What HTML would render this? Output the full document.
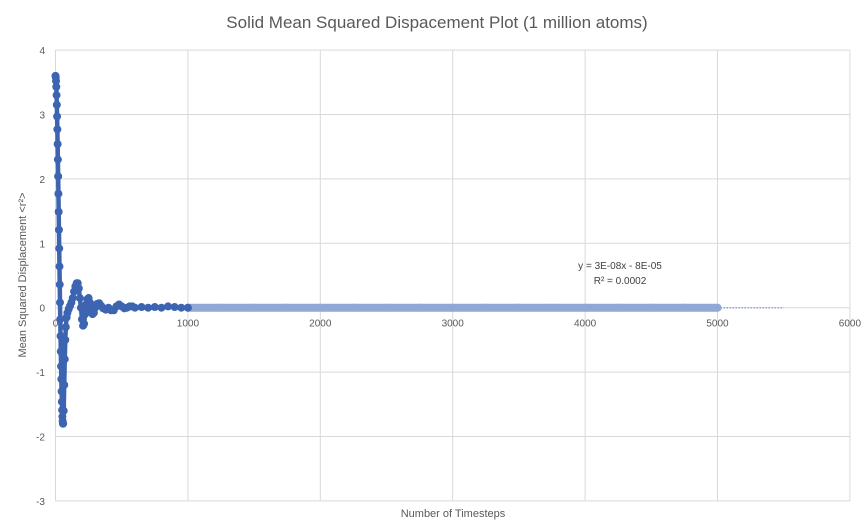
<!DOCTYPE html>
<html><head><meta charset="utf-8">
<style>
html,body{margin:0;padding:0;background:#fff;}
svg{display:block;font-family:"Liberation Sans",sans-serif;}
</style></head>
<body>
<svg id="chart" width="866" height="529" viewBox="0 0 866 529">
  <rect x="0" y="0" width="866" height="529" fill="#fff"/>
  <text x="437" y="28" text-anchor="middle" font-size="17" fill="#595959">Solid Mean Squared Dispacement Plot (1 million atoms)</text>
  <g id="grid"></g>
  <g id="ticks"></g>
  <g id="series"></g>
  <text x="26" y="275" text-anchor="middle" font-size="11" fill="#595959" transform="rotate(-90 26 275)">Mean Squared Displacement &lt;r²&gt;</text>
  <text x="453" y="517" text-anchor="middle" font-size="11" fill="#595959">Number of Timesteps</text>
  <text x="620" y="269" text-anchor="middle" font-size="10" fill="#404040">y = 3E-08x - 8E-05</text>
  <text x="620" y="284" text-anchor="middle" font-size="10" fill="#404040">R² = 0.0002</text>
</svg>
<script>
const xTicks=[0,1000,2000,3000,4000,5000,6000];
const yTicks=[4,3,2,1,0,-1,-2,-3];
const mainT=[0,2,4,6,8,10,12,14,16,18,20,22,24,26,28,30,32,34,36,38,40,42,44,46,48,50,52,54,56,58,
62,66,70,74,78,84,90,100,110,120,130,140,150,160,168,176,184,192,200,208,216,224,232,240,250,260,270,280,290,300,
315,330,345,360,380,400,420,440,460,480,500,520,540,560,580,600,650,700,750,800,850,900,950,1000];
const mainV=[3.60,3.58,3.52,3.43,3.30,3.15,2.97,2.77,2.54,2.30,2.04,1.77,1.49,1.21,0.92,0.64,0.36,0.08,-0.18,-0.44,-0.68,-0.91,-1.11,-1.30,-1.46,-1.59,-1.69,-1.76,-1.80,-1.80,
-1.6,-1.2,-0.8,-0.5,-0.3,-0.15,-0.08,-0.02,0.03,0.08,0.15,0.25,0.33,0.38,0.38,0.3,0.15,0,-0.18,-0.28,-0.25,-0.1,0.05,0.13,0.15,0.08,-0.03,-0.1,-0.08,0,
0.06,0.07,0.03,-0.01,-0.03,0.0,-0.04,-0.04,0.02,0.05,0.02,-0.01,0,0.02,0.02,0,0.01,0,0.01,0,0.02,0.01,0,0];
const lightT=[1000,1250,1500,1750,2000,2250,2500,2750,3000,3250,3500,3750,4000,4250,4500,4750,5000];
const lightV=[0,0,0,0,0,0,0,0,0,0,0,0,0,0,0,0,0];
const trendT=[5000,5500];
const trendSlope=3e-8, trendIntercept=-8e-5;

const NS="http://www.w3.org/2000/svg";
const X0=55.5, XS=132.4/1000, Y0=307.7, YS=64.4;
function sx(t){return X0+t*XS;}
function sy(v){return Y0-v*YS;}
function mk(tag,attrs,parent){const e=document.createElementNS(NS,tag);for(const k in attrs)e.setAttribute(k,attrs[k]);parent.appendChild(e);return e;}
const grid=document.getElementById('grid'),ticks=document.getElementById('ticks'),ser=document.getElementById('series');
const xMin=sx(0),xMax=sx(6000),yTop=sy(4),yBot=sy(-3);
yTicks.forEach(v=>{
  const l=mk('line',{x1:xMin,x2:xMax,y1:sy(v),y2:sy(v),stroke:'#d9d9d9','stroke-width':1},grid);
  
  
  const t=mk('text',{x:45,y:sy(v)+4,'text-anchor':'end','font-size':10,fill:'#595959'},ticks);
  t.textContent=v;
  
  
});
xTicks.forEach(v=>{
  const l=mk('line',{x1:sx(v),x2:sx(v),y1:yTop,y2:yBot,stroke:'#d9d9d9','stroke-width':1},grid);
  
  
  const t=mk('text',{x:sx(v),y:Y0+19,'text-anchor':'middle','font-size':10,fill:'#595959'},ticks);
  t.textContent=v;
  
  
});
const tr=mk('line',{x1:sx(trendT[0]),y1:sy(trendSlope*trendT[0]+trendIntercept),x2:sx(trendT[1]),y2:sy(trendSlope*trendT[1]+trendIntercept),stroke:'#8fa8d8','stroke-width':1.5,'stroke-dasharray':'1.5 1.5'},ser);


const lp=mk('polyline',{points:lightT.map((t,i)=>sx(t)+','+sy(lightV[i])).join(' '),fill:'none',stroke:'#8fa8d8','stroke-width':8,'stroke-linecap':'round'},ser);


lightT.forEach((t,i)=>{
  const c=mk('circle',{cx:sx(t),cy:sy(lightV[i]),r:4,fill:'#8fa8d8'},ser);
  
  
});
const mp=mk('polyline',{points:mainT.map((t,i)=>sx(t)+','+sy(mainV[i])).join(' '),fill:'none',stroke:'#3c64b1','stroke-width':4.5,'stroke-linejoin':'round'},ser);


mainT.forEach((t,i)=>{
  const c=mk('circle',{cx:sx(t),cy:sy(mainV[i]),r:4,fill:'#3c64b1'},ser);
  
  
});
</script>
</body></html>
